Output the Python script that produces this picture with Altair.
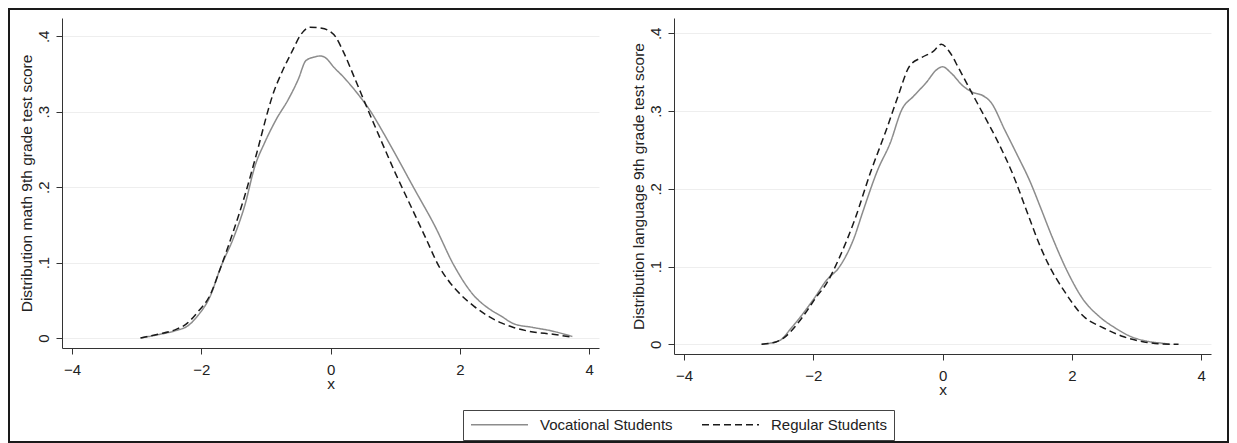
import altair as alt
import pandas as pd

# ---- data (kernel density curves) ----
math_voc_x = [-2.94, -2.67, -2.39, -2.21, -2.06, -1.87, -1.69, -1.51, -1.33, -1.17, -1.02, -0.84, -0.65, -0.50, -0.38, -0.23, -0.16, -0.07, 0.05, 0.20, 0.38, 0.63, 0.81, 1.00, 1.30, 1.61, 1.91, 2.22, 2.40, 2.64, 2.83, 3.13, 3.44, 3.74]
math_voc_y = [0.0, 0.0044, 0.010, 0.016, 0.029, 0.054, 0.096, 0.131, 0.175, 0.228, 0.259, 0.290, 0.317, 0.343, 0.368, 0.373, 0.374, 0.371, 0.359, 0.346, 0.328, 0.299, 0.273, 0.244, 0.197, 0.149, 0.096, 0.056, 0.042, 0.029, 0.019, 0.014, 0.009, 0.002]

math_reg_x = [-2.94, -2.67, -2.39, -2.24, -2.06, -1.87, -1.69, -1.51, -1.33, -1.14, -0.96, -0.90, -0.745, -0.59, -0.47, -0.32, -0.16, -0.04, 0.08, 0.20, 0.38, 0.57, 0.75, 1.00, 1.24, 1.48, 1.67, 1.85, 2.03, 2.22, 2.40, 2.64, 2.83, 3.13, 3.44, 3.74]
math_reg_y = [0.0, 0.005, 0.0115, 0.018, 0.034, 0.056, 0.096, 0.140, 0.188, 0.246, 0.304, 0.321, 0.354, 0.381, 0.401, 0.412, 0.411, 0.408, 0.399, 0.379, 0.343, 0.304, 0.268, 0.219, 0.175, 0.131, 0.096, 0.073, 0.056, 0.042, 0.031, 0.020, 0.014, 0.008, 0.005, 0.001]

lang_voc_x = [-2.80, -2.52, -2.34, -1.97, -1.79, -1.61, -1.36, -1.24, -1.00, -0.81, -0.63, -0.45, -0.26, -0.08, 0.0, 0.13, 0.32, 0.47, 0.62, 0.75, 0.96, 1.14, 1.36, 1.51, 1.69, 1.94, 2.18, 2.42, 2.67, 2.91, 3.16, 3.40, 3.52]
lang_voc_y = [0.0, 0.005, 0.021, 0.061, 0.083, 0.098, 0.139, 0.169, 0.225, 0.259, 0.302, 0.319, 0.336, 0.354, 0.357, 0.349, 0.332, 0.324, 0.320, 0.311, 0.276, 0.246, 0.208, 0.177, 0.139, 0.092, 0.057, 0.036, 0.021, 0.010, 0.004, 0.0013, 0.0]

lang_reg_x = [-2.80, -2.58, -2.46, -2.28, -2.09, -1.97, -1.79, -1.61, -1.36, -1.12, -0.87, -0.69, -0.51, -0.32, -0.14, -0.02, 0.10, 0.25, 0.41, 0.59, 0.84, 1.08, 1.33, 1.51, 1.63, 1.87, 2.18, 2.49, 2.79, 3.10, 3.40, 3.65]
lang_reg_y = [0.0, 0.003, 0.008, 0.023, 0.044, 0.059, 0.079, 0.109, 0.160, 0.220, 0.276, 0.319, 0.358, 0.369, 0.377, 0.386, 0.377, 0.355, 0.330, 0.302, 0.263, 0.220, 0.165, 0.126, 0.104, 0.070, 0.036, 0.021, 0.010, 0.0034, 0.0004, 0.0]

groups = ["Vocational Students", "Regular Students"]
x_ticks = [-4, -2, 0, 2, 4]
y_ticks = [0, 0.1, 0.2, 0.3, 0.4]


def frame(xs_v, ys_v, xs_r, ys_r):
    rows = [{"x": a, "d": b, "g": groups[0]} for a, b in zip(xs_v, ys_v)]
    rows += [{"x": a, "d": b, "g": groups[1]} for a, b in zip(xs_r, ys_r)]
    return pd.DataFrame(rows)


math_df = frame(math_voc_x, math_voc_y, math_reg_x, math_reg_y)
lang_df = frame(lang_voc_x, lang_voc_y, lang_reg_x, lang_reg_y)

FONT = "Liberation Sans"
FS = 15
AX = "#333333"


def panel(df, ytitle, ydom, h):
    x_axis = alt.Axis(values=x_ticks, grid=False, title="x", tickSize=6,
                      labelPadding=8, labelBaseline="top", titleY=40,
                      titleBaseline="alphabetic")
    y_axis = alt.Axis(values=y_ticks, grid=True, title=ytitle, tickSize=6,
                      labelAngle=270, labelAlign="center", labelBaseline="alphabetic",
                      labelPadding=8,
                      labelExpr="datum.value == 0 ? '0' : substring(format(datum.value, '.1f'), 1)",
                      titleAngle=270, titleAlign="center", titleBaseline="alphabetic",
                      titleX=-31, titleY=h / 2)
    leg = alt.Legend(title=None, orient="none", legendX=401, legendY=392,
                     direction="horizontal", symbolType="stroke", symbolSize=3249,
                     clipHeight=15, symbolStrokeWidth=1.5, labelFont=FONT, labelFontSize=FS,
                     labelColor="#222222", labelOffset=11, columnPadding=28,
                     padding=7, strokeColor="#444444", fillColor="white")
    color_enc = alt.Color("g:N", scale=alt.Scale(domain=groups, range=["#8c8c8c", "#1a1a1a"]),
                          legend=leg)
    dash_enc = alt.StrokeDash("g:N", scale=alt.Scale(domain=groups, range=[[1, 0], [7, 4]]),
                              legend=leg)
    lines = alt.Chart(df).mark_line(strokeWidth=1.5, interpolate="monotone").encode(
        x=alt.X("x:Q", scale=alt.Scale(domain=[-4.155, 4.152], nice=False, zero=False), axis=x_axis),
        y=alt.Y("d:Q", scale=alt.Scale(domain=ydom, nice=False, zero=False), axis=y_axis),
        color=color_enc,
        strokeDash=dash_enc,
        detail="g:N",
    )
    return lines.properties(width=537, height=h)


border = alt.Chart(pd.DataFrame({"a": [0]})).mark_rect(
    filled=False, stroke="#1a1a1a", strokeWidth=2
).encode(x=alt.value(-53), x2=alt.value(1166), y=alt.value(-9), y2=alt.value(424))

left = alt.layer(border, panel(math_df, "Distribution math 9th grade test score",
                               [-0.01326, 0.4243], 330))
right = panel(lang_df, "Distribution language 9th grade test score",
              [-0.01248, 0.4197], 336)

chart = alt.hconcat(left, right, spacing=75, bounds="flush").resolve_scale(
    color="shared", strokeDash="shared"
).properties(padding=0, background="white").configure_view(
    strokeWidth=0
).configure_axis(
    labelFont=FONT, labelFontSize=FS, labelColor="#222222",
    titleFont=FONT, titleFontSize=15.5, titleFontWeight="normal", titleColor="#222222",
    domainColor=AX, tickColor=AX, domainWidth=1, tickWidth=1,
    gridColor="#eeeeee", gridWidth=1
)

chart.save("out.html", embed_options={"renderer": "svg", "actions": False})
